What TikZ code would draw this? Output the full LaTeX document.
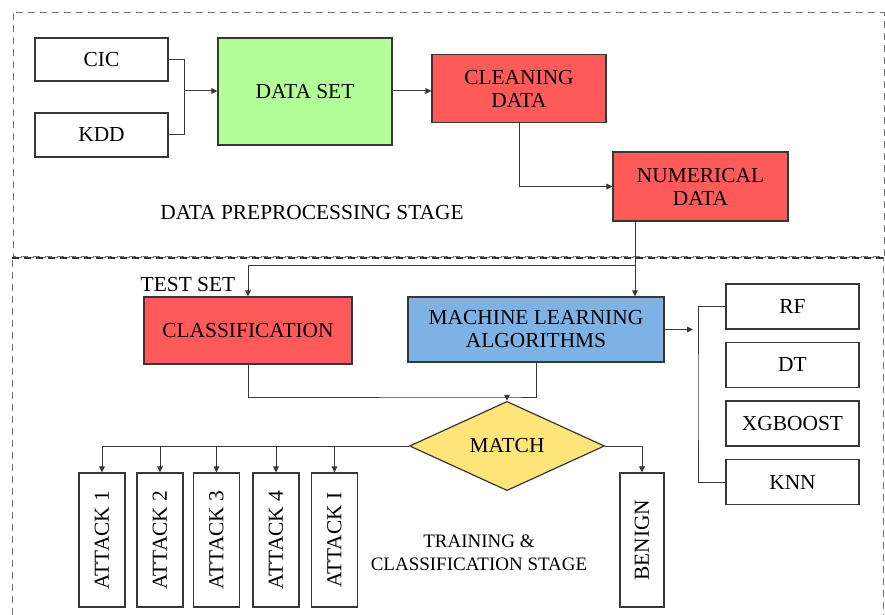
\documentclass[tikz,border=0pt]{standalone}
\usepackage{fontspec}
\setmainfont{Liberation Serif}
\usetikzlibrary{shapes.geometric,arrows.meta}
\definecolor{boxgreen}{RGB}{178,255,152}
\definecolor{boxred}{RGB}{255,90,90}
\definecolor{boxblue}{RGB}{127,178,228}
\definecolor{boxyellow}{RGB}{255,228,122}
\definecolor{edge}{RGB}{55,55,55}
\tikzset{
  every node/.style={font=\fontsize{10.7}{11.5}\selectfont},
  block/.style={draw=edge, line width=0.6pt, inner sep=1pt, align=center},
  plainbox/.style={block, fill=white},
  greenbox/.style={block, fill=boxgreen},
  redbox/.style={block, fill=boxred},
  bluebox/.style={block, fill=boxblue},
  attackbox/.style={plainbox, minimum width=23pt, minimum height=67pt},
  algobox/.style={plainbox, minimum width=66.5pt, minimum height=22.5pt},
  link/.style={draw=edge, line width=0.5pt},
  arr/.style={link, -{Triangle[length=3pt,width=2.8pt]}},
  stagebox/.style={draw=black!55, line width=0.5pt, dash pattern=on 3.5pt off 2.5pt},
  separator/.style={draw=black!80, line width=1pt, dash pattern=on 3.5pt off 2.5pt},
}
\begin{document}
\begin{tikzpicture}[x=0.5pt, y=-0.5pt]
\useasboundingbox (0,0) rectangle (885,615);

% stage frames
\draw[stagebox] (13,13) rectangle (884,257);
\draw[stagebox] (12,615) -- (12,258) -- (883,258) -- (883,615);
\draw[separator] (12,258) -- (883,258);

% preprocessing stage
\node[plainbox, minimum width=66.5pt, minimum height=21.5pt] (cic) at (101.5,59.5) {CIC};
\node[plainbox, minimum width=66.5pt, minimum height=22pt] (kdd) at (101.5,135) {KDD};
\node[greenbox, minimum width=87pt, minimum height=53.5pt] (ds) at (305,91.5) {DATA SET};
\node[redbox, minimum width=87pt, minimum height=34pt] (clean) at (519,88.5) {CLEANING\\DATA};
\node[redbox, minimum width=87.5pt, minimum height=34.5pt] (num) at (700.5,186.5) {NUMERICAL\\DATA};
\node (prep) at (312,213) {DATA PREPROCESSING STAGE};

\coordinate (merge) at (184,91);
\draw[link] (cic.east) -| (merge);
\draw[link] (kdd.east) -| (merge);
\draw[arr] (merge) -- (merge -| ds.west);
\draw[arr] (ds.east |- merge) -- (merge -| clean.west);
\draw[arr] (clean.south) |- (num.west);

% training & classification stage
\node[redbox, minimum width=104pt, minimum height=33.5pt] (cls) at (248,330.5) {CLASSIFICATION};
\node[bluebox, minimum width=128pt, minimum height=32.5pt] (ml) at (536,329.5) {MACHINE LEARNING\\ALGORITHMS};
\node (test) at (188,285) {TEST SET};

\coordinate (numout) at (635,221);
\coordinate (split) at (635,266);
\draw[link] (numout) -- (split);
\draw[arr] (split) -- (split |- ml.north);
\draw[arr] (split) -| (cls.north);

% algorithm list
\node[algobox] (rf) at (792.5,306.5) {RF};
\node[algobox] (dt) at (792.5,365) {DT};
\node[algobox] (xgb) at (792.5,423.5) {XGBOOST};
\node[algobox] (knn) at (792.5,482) {KNN};
\coordinate (mlout) at (693,329.5);
\coordinate (brace) at (698,400);
\draw[arr] (ml.east) -- (mlout);
\draw[link] (rf.west) -| (brace) |- (knn.west);

% matching
\node[diamond, draw=edge, line width=0.6pt, fill=boxyellow, inner sep=0pt,
      minimum width=97.5pt, minimum height=25pt] (match) at (507,446) {MATCH};
\coordinate (join) at (507,397);
\draw[link] (cls.south) |- (join) -| (ml.south);
\draw[arr] (join) -- (match.north);

% outcomes
\node[attackbox] (a1) at (102,540) {\rotatebox{90}{ATTACK 1}};
\node[attackbox] (a2) at (160,540) {\rotatebox{90}{ATTACK 2}};
\node[attackbox] (a3) at (216.5,540) {\rotatebox{90}{ATTACK 3}};
\node[attackbox] (a4) at (276,540) {\rotatebox{90}{ATTACK 4}};
\node[attackbox] (a5) at (334.5,540) {\rotatebox{90}{ATTACK I}};
\node[attackbox, minimum width=22pt] (benign) at (642,540) {\rotatebox{90}{BENIGN}};
\node[align=center, font=\fontsize{9.5}{11.5}\selectfont] (train) at (479,553) {TRAINING \&\\CLASSIFICATION STAGE};

\draw[link] (match.west) -- (a1.north |- match.west);
\foreach \b in {a1,a2,a3,a4,a5}
  \draw[arr] (\b.north |- match.west) -- (\b.north);
\draw[arr] (match.east) -| (benign.north);
\end{tikzpicture}
\end{document}
